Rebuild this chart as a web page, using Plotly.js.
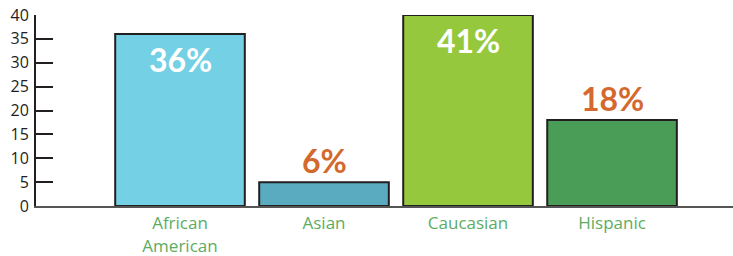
<!DOCTYPE html>
<html>
<head>
<meta charset="utf-8">
<script src="https://cdn.plot.ly/plotly-3.0.1.min.js"></script>
<style>html,body{margin:0;padding:0;background:#fff;}#chart{width:733px;height:256px;}</style>
</head>
<body>
<div id="chart"></div>
<script>
var categories = ['African American', 'Asian', 'Caucasian', 'Hispanic'];
var tickLabels = ['African<br>American', 'Asian', 'Caucasian', 'Hispanic'];
var barValues = [36, 5, 40, 18];
var valueLabels = ['36%', '6%', '41%', '18%'];
var barColors = ['#74d0e4', '#5aabc0', '#95c83d', '#4a9d56'];

var trace = {
  type: 'bar',
  x: categories,
  y: barValues,
  width: 0.9,
  marker: {color: barColors, line: {color: '#231f20', width: 2}},
  hoverinfo: 'none'
};

var annotations = categories.map(function (c, i) {
  var inside = barValues[i] > 30;
  return {
    x: c, y: barValues[i], xref: 'x', yref: 'y',
    text: valueLabels[i], showarrow: false,
    xanchor: 'center', yanchor: 'middle',
    yshift: inside ? -25 : 22,
    font: {family: 'Lato', size: 32, weight: 700, color: inside ? '#ffffff' : '#d4692e'}
  };
});

var layout = {
  width: 733, height: 256,
  margin: {l: 36, r: 0, t: 15, b: 50},
  paper_bgcolor: '#ffffff', plot_bgcolor: '#ffffff',
  showlegend: false,
  xaxis: {
    type: 'category',
    range: [-1, 3.84],
    tickvals: categories, ticktext: tickLabels,
    showline: true, linecolor: '#555555', linewidth: 2,
    ticks: '', showgrid: false, zeroline: false,
    tickfont: {family: 'Open Sans', size: 17, color: '#5cac63'},
    ticklabelstandoff: 1
  },
  yaxis: {
    range: [0, 40], dtick: 5, tick0: 0,
    showline: true, linecolor: '#231f20', linewidth: 2,
    ticks: 'inside', ticklen: 17, tickwidth: 2, tickcolor: '#231f20',
    showgrid: false, zeroline: false,
    tickfont: {family: 'Open Sans', size: 16, color: '#231f20'},
    ticklabelstandoff: 2
  },
  annotations: annotations
};

Plotly.newPlot('chart', [trace], layout, {displayModeBar: false, staticPlot: true});
</script>
</body>
</html>
